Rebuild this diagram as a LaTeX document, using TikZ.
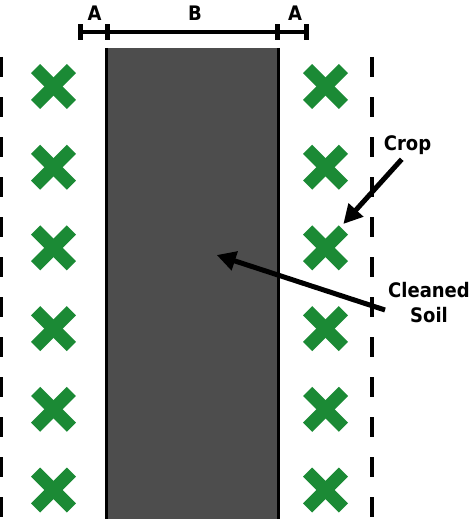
\documentclass[tikz,border=0pt]{standalone}
\usepackage{fontspec}
\newfontfamily\lab{DejaVu Sans Condensed}
\usetikzlibrary{arrows.meta}
\definecolor{cropgreen}{RGB}{27,138,53}
\definecolor{soilgray}{RGB}{77,77,77}
\tikzset{
  lbl/.style={font=\lab\bfseries\fontsize{20}{25}\selectfont, inner sep=0pt, anchor=base, align=center},
  dimlbl/.style={font=\lab\bfseries\fontsize{20}{24}\selectfont, inner sep=0pt, anchor=base},
  arr/.style={line width=5pt, -{Triangle[length=19pt,width=19pt]}},
  cross/.style={draw=cropgreen, line width=13pt},
  edge/.style={draw=black, line width=3pt},
  bound/.style={draw=black, line width=3.5pt, dash pattern=on 20pt off 20pt},
  dimline/.style={draw=black, line width=4pt},
  dimtick/.style={draw=black, line width=5pt}
}
\begin{document}
\begin{tikzpicture}[x=1pt,y=-1pt]
\useasboundingbox (0,0) rectangle (469,519);
% cleaned soil strip
\fill[soilgray] (105,48) rectangle (280,519);
\draw[edge] (106.5,48) -- (106.5,519);
\draw[edge] (278.5,48) -- (278.5,519);
% dashed boundaries
\draw[bound] (1.5,57) -- (1.5,519);
\draw[bound] (372,57) -- (372,519);
% crops
\foreach \i in {0,...,5}{
  \foreach \cx in {53.5,325.5}{
    \pgfmathsetmacro{\cy}{86.5+80.7*\i}
    \draw[cross] (\cx-17.9,\cy-17.9) -- (\cx+17.9,\cy+17.9);
    \draw[cross] (\cx-17.9,\cy+17.9) -- (\cx+17.9,\cy-17.9);
  }
}
% dimension bar
\coordinate (d0) at (80,32);
\coordinate (d1) at (107,32);
\coordinate (d2) at (277,32);
\coordinate (d3) at (306,32);
\draw[dimline] (d0) -- (d3);
\foreach \d in {d0,d1,d2,d3}{
  \draw[dimtick] ([yshift=-8pt]\d) -- ([yshift=8pt]\d);
}
\node[dimlbl] (a1) at (94.5,20.5) {A};
\node[dimlbl] (b) at (195,20.5) {B};
\node[dimlbl] (a2) at (295,20.5) {A};
% labels and arrows
\node[lbl] (crop) at (407.5,150) {Crop};
\node[lbl] (soil) at (429,322) {Cleaned\\Soil};
\coordinate (croptail) at (401.7,159.3);
\coordinate (croptip) at (343.3,224);
\coordinate (soiltail) at (385,310);
\coordinate (soiltip) at (216.7,255);
\draw[arr] (croptail) -- (croptip);
\draw[arr] (soiltail) -- (soiltip);
\end{tikzpicture}
\end{document}
